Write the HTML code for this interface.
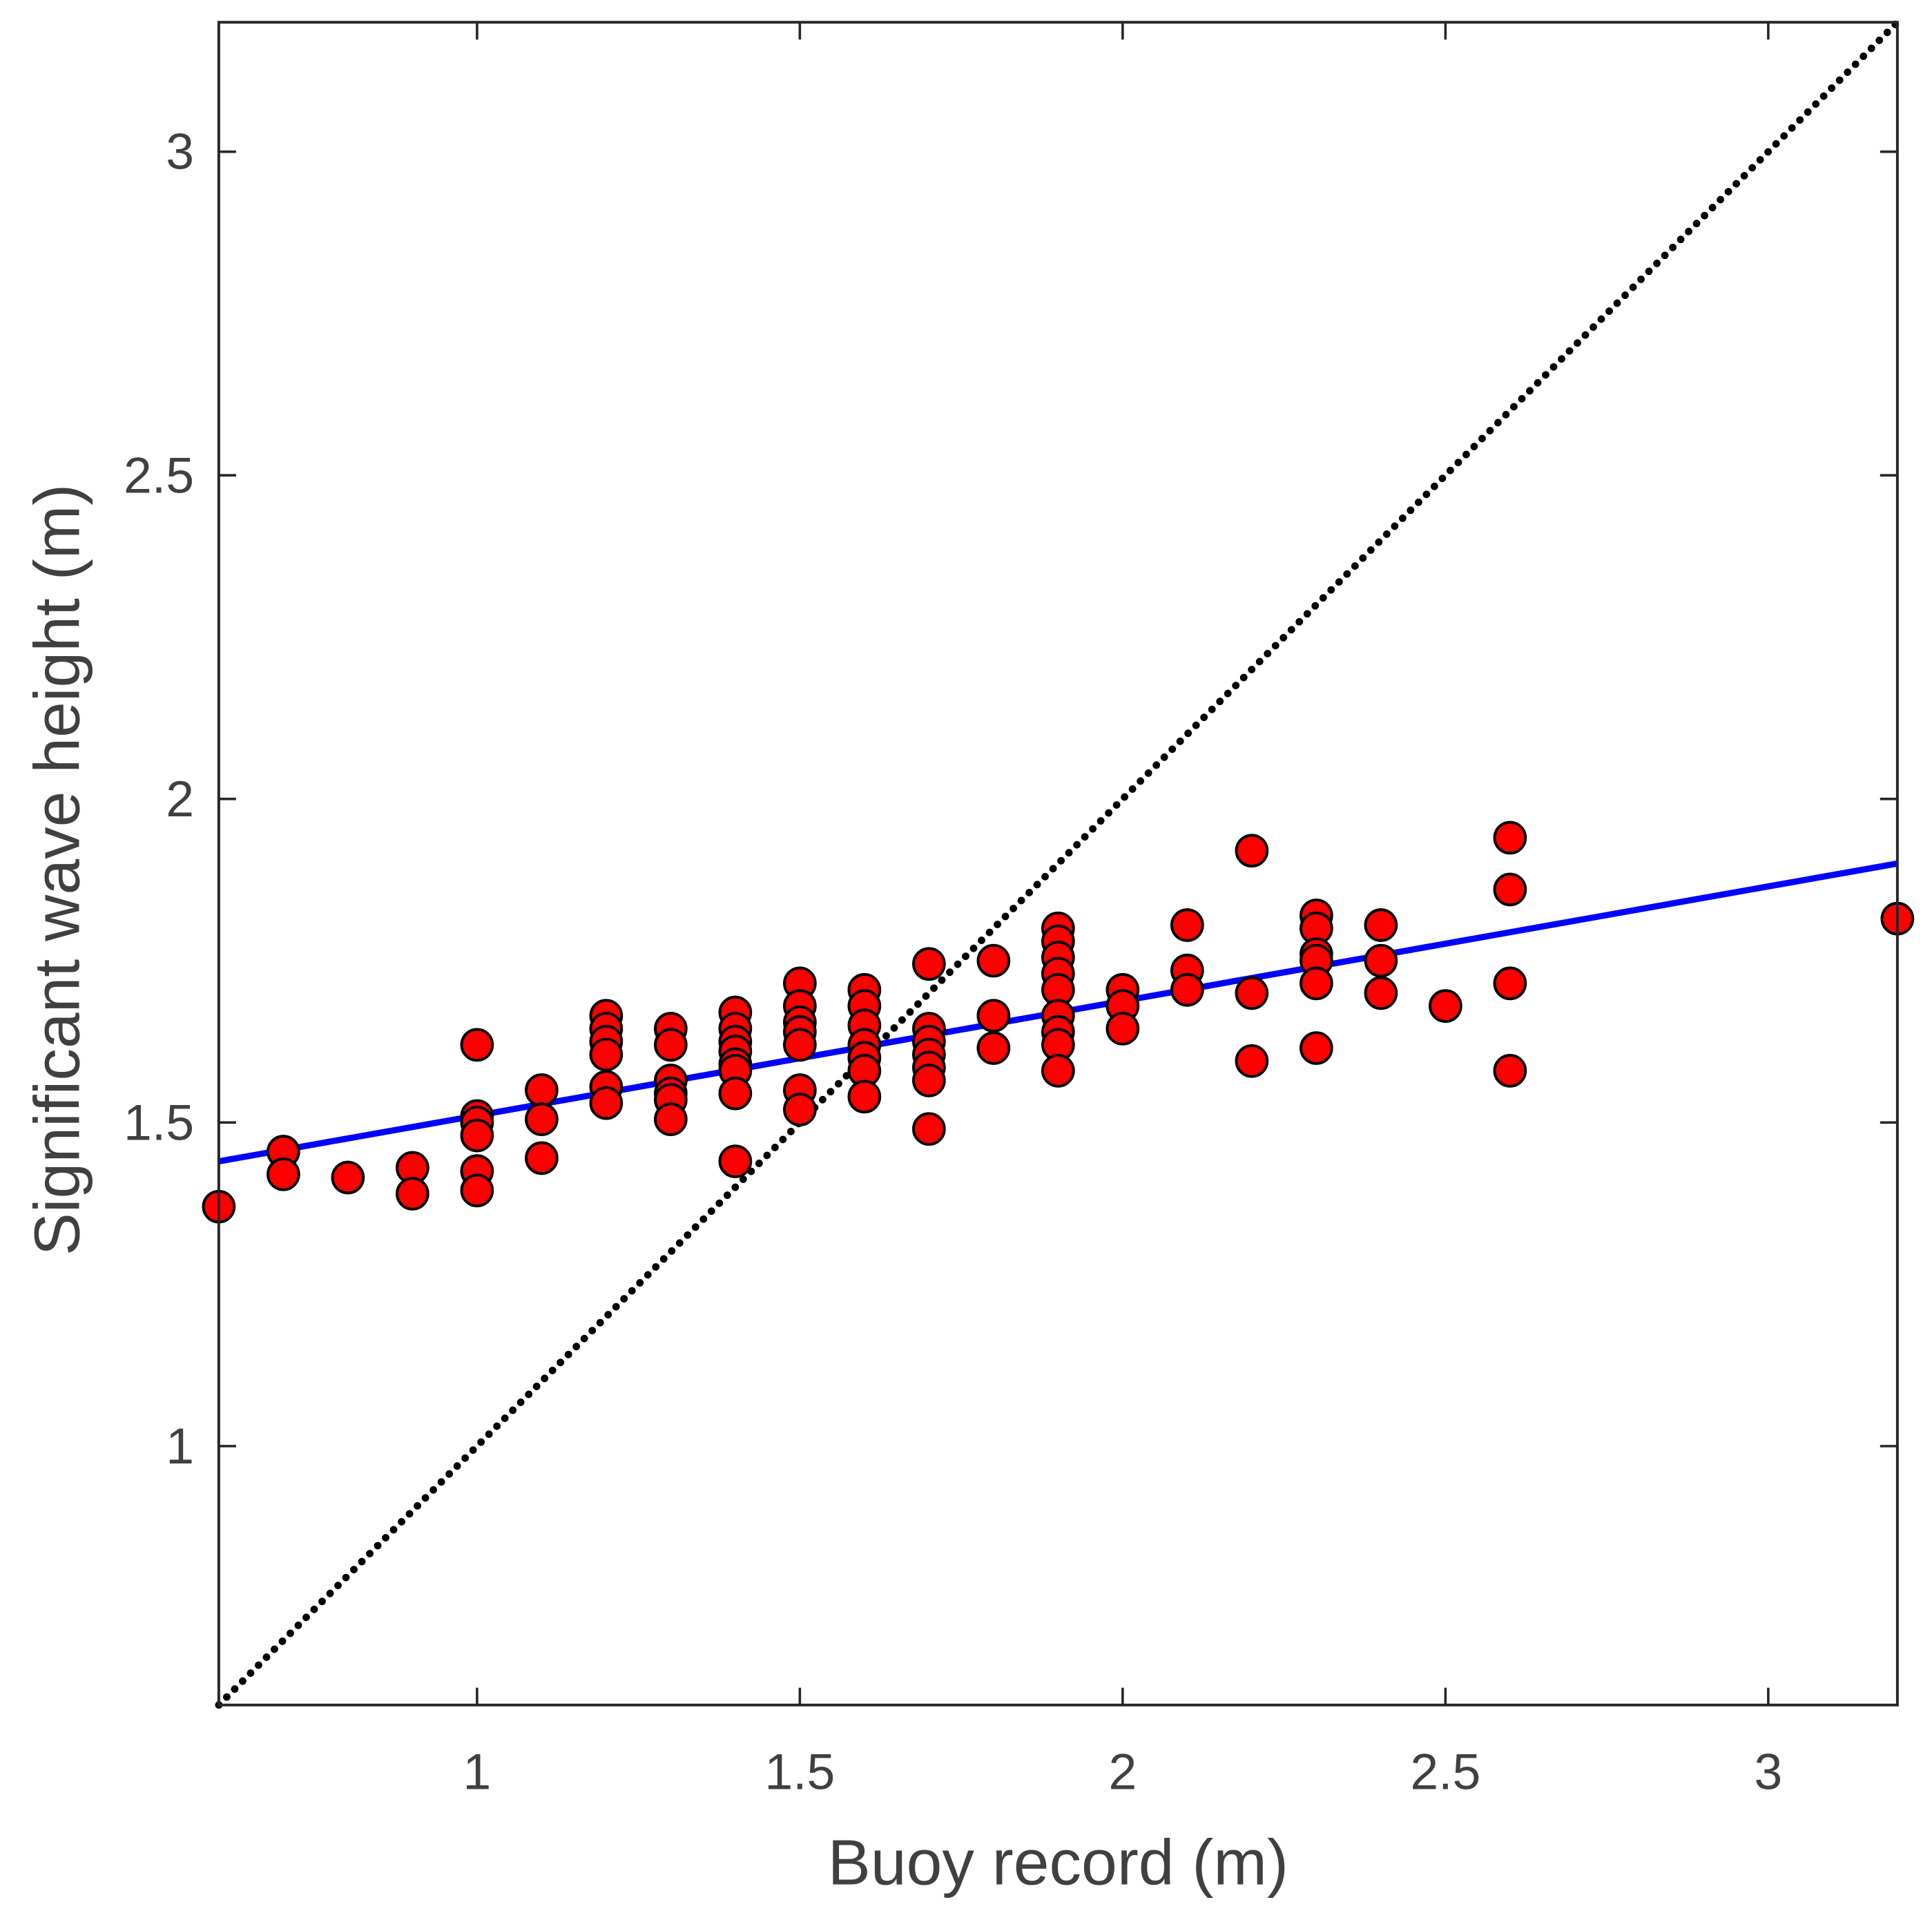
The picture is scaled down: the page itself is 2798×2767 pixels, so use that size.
<!DOCTYPE html>
<html><head><meta charset="utf-8"><style>html,body{margin:0;padding:0;background:#fff}svg{display:block}</style></head>
<body>
<svg id="chart" width="2798" height="2767" viewBox="0 0 1563 1545.6" preserveAspectRatio="none" xmlns="http://www.w3.org/2000/svg" font-family="Liberation Sans, Arial, sans-serif">
<g id="plot"></g>
</svg>
<script>
const xTicks=[1,1.5,2,2.5,3];
const xTickLabels=["1","1.5","2","2.5","3"];
const yTicks=[1,1.5,2,2.5,3];
const yTickLabels=["1","1.5","2","2.5","3"];
const xVals=[0.6,0.7,0.7,0.8,0.9,0.9,
1,1,1,1,1,1,
1.1,1.1,1.1,
1.2,1.2,1.2,1.2,1.2,1.2,
1.3,1.3,1.3,1.3,1.3,1.3,
1.4,1.4,1.4,1.4,1.4,1.4,1.4,1.4,
1.5,1.5,1.5,1.5,1.5,1.5,1.5,
1.6,1.6,1.6,1.6,1.6,1.6,1.6,
1.7,1.7,1.7,1.7,1.7,1.7,1.7,
1.8,1.8,1.8,
1.9,1.9,1.9,1.9,1.9,1.9,1.9,1.9,1.9,
2,2,2,
2.1,2.1,2.1,
2.2,2.2,2.2,
2.3,2.3,2.3,2.3,2.3,2.3,
2.4,2.4,2.4,
2.5,
2.6,2.6,2.6,2.6,
3.2];
const yVals=[1.37,1.455,1.42,1.415,1.43,1.39,
1.62,1.51,1.50,1.48,1.425,1.395,
1.55,1.505,1.445,
1.665,1.645,1.625,1.605,1.555,1.53,
1.645,1.62,1.565,1.545,1.535,1.505,
1.67,1.645,1.625,1.61,1.59,1.58,1.545,1.44,
1.715,1.68,1.655,1.64,1.62,1.55,1.52,
1.705,1.68,1.65,1.62,1.60,1.58,1.54,
1.745,1.645,1.625,1.605,1.585,1.565,1.49,
1.75,1.665,1.615,
1.80,1.78,1.755,1.73,1.705,1.665,1.64,1.62,1.58,
1.705,1.68,1.645,
1.805,1.735,1.705,
1.92,1.70,1.595,
1.82,1.80,1.76,1.75,1.715,1.615,
1.805,1.75,1.70,
1.68,
1.94,1.86,1.715,1.58,
1.815];
const fitIntercept=1.44, fitSlope=0.177, fitX0=0.6;
const xMin=0.6,xMax=3.2,yMin=0.6,yMax=3.2;
const L=177,R=1535,T=18,B=1379;
const sx=v=>L+(v-xMin)/(xMax-xMin)*(R-L);
const sy=v=>B-(v-yMin)/(yMax-yMin)*(B-T);
const NS="http://www.w3.org/2000/svg";
const g=document.getElementById('plot');
function mk(tag,attrs){const e=document.createElementNS(NS,tag);for(const k in attrs)e.setAttribute(k,attrs[k]);g.appendChild(e);return e;}
let e=mk('line',{x1:sx(xMin),y1:sy(xMin),x2:sx(xMax),y2:sy(xMax),stroke:'#000','stroke-width':6,'stroke-dasharray':'0.1 9','stroke-linecap':'round'});


e=mk('line',{x1:sx(xMin),y1:sy(fitIntercept+fitSlope*(xMin-fitX0)),x2:sx(xMax),y2:sy(fitIntercept+fitSlope*(xMax-fitX0)),stroke:'#0000ff','stroke-width':5});


for(let i=0;i<xVals.length;i++){
 const c=mk('circle',{cx:sx(xVals[i]),cy:sy(yVals[i]),r:12.5,fill:'#ff0000',stroke:'#000','stroke-width':2.2});
 
 
}
e=mk('rect',{x:L,y:T,width:R-L,height:B-T,fill:'none',stroke:'#262626','stroke-width':2.2});


xTicks.forEach((v,i)=>{
 const x=sx(v);
 mk('line',{x1:x,y1:B,x2:x,y2:B-14,stroke:'#262626','stroke-width':2});
 mk('line',{x1:x,y1:T,x2:x,y2:T+14,stroke:'#262626','stroke-width':2});
 const t=mk('text',{x:x,y:B+68,'text-anchor':'middle','font-size':41,fill:'#404040'});
 t.textContent=xTickLabels[i];
 
 
});
yTicks.forEach((v,i)=>{
 const y=sy(v);
 mk('line',{x1:L,y1:y,x2:L+14,y2:y,stroke:'#262626','stroke-width':2});
 mk('line',{x1:R,y1:y,x2:R-14,y2:y,stroke:'#262626','stroke-width':2});
 const t=mk('text',{x:L-20,y:y+14,'text-anchor':'end','font-size':41,fill:'#404040'});
 t.textContent=yTickLabels[i];
 
 
});
e=mk('text',{x:(L+R)/2,y:1524,'text-anchor':'middle','font-size':52,fill:'#404040'});
e.textContent='Buoy record (m)';


e=mk('text',{x:64,y:(T+B)/2+5,'text-anchor':'middle','font-size':52,fill:'#404040',transform:'rotate(-90 64 '+((T+B)/2+5)+')'});
e.textContent='Significant wave height (m)';


</script>
</body></html>
